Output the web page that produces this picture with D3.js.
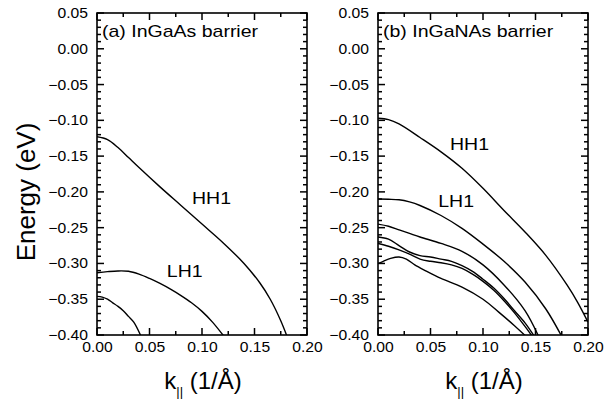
<!DOCTYPE html>
<html>
<head>
<meta charset="utf-8">
<script src="https://cdn.jsdelivr.net/npm/d3@7"></script>
<style>
  body { margin: 0; background: #fff; }
  svg text { font-family: Arial, "Liberation Sans", sans-serif; fill: #000; }
</style>
</head>
<body>
<svg id="chart" width="614" height="401"></svg>
<script>
// tick values
const xTicks = [0, 0.05, 0.10, 0.15, 0.20]
const yTicks = [0.05, 0, -0.05, -0.10, -0.15, -0.20, -0.25, -0.30, -0.35, -0.40]
const xMinorTicks = [0.025, 0.075, 0.125, 0.175]
const yMinorTicks = d3.range(-39, 5).filter(i => i % 5 !== 0).map(i => i / 100)

// panel (a) InGaAs barrier: [k, E]
const aHH1 = [[0,-0.123],[0.01,-0.127],[0.02,-0.138],[0.03,-0.152],[0.04,-0.166],[0.06,-0.193],[0.08,-0.219],[0.10,-0.245],[0.12,-0.271],[0.14,-0.300],[0.155,-0.327],[0.165,-0.350],[0.175,-0.380],[0.181,-0.402]]
const aLH1 = [[0,-0.313],[0.01,-0.3115],[0.02,-0.3105],[0.03,-0.311],[0.04,-0.315],[0.05,-0.321],[0.06,-0.328],[0.07,-0.336],[0.08,-0.345],[0.09,-0.355],[0.10,-0.367],[0.11,-0.382],[0.121,-0.402]]
const aHH2 = [[0,-0.346],[0.005,-0.347],[0.01,-0.350],[0.015,-0.355],[0.02,-0.360],[0.025,-0.366],[0.03,-0.374],[0.035,-0.382],[0.042,-0.402]]

// panel (b) InGaNAs barrier
const bHH1 = [[0,-0.097],[0.01,-0.099],[0.02,-0.105],[0.04,-0.124],[0.06,-0.144],[0.08,-0.167],[0.10,-0.195],[0.12,-0.226],[0.14,-0.256],[0.16,-0.289],[0.18,-0.330],[0.19,-0.354],[0.20,-0.382]]
const bLH1 = [[0,-0.210],[0.01,-0.2103],[0.02,-0.211],[0.03,-0.214],[0.04,-0.219],[0.06,-0.233],[0.08,-0.251],[0.10,-0.273],[0.12,-0.297],[0.14,-0.326],[0.16,-0.364],[0.175,-0.402]]
const b3 = [[0,-0.245],[0.01,-0.248],[0.02,-0.253],[0.03,-0.258],[0.04,-0.263],[0.06,-0.272],[0.08,-0.283],[0.10,-0.302],[0.12,-0.330],[0.14,-0.366],[0.153,-0.402]]
const b4 = [[0,-0.263],[0.01,-0.266],[0.02,-0.275],[0.03,-0.284],[0.04,-0.289],[0.05,-0.291],[0.06,-0.294],[0.07,-0.297],[0.08,-0.303],[0.09,-0.311],[0.10,-0.322],[0.11,-0.334],[0.12,-0.349],[0.13,-0.366],[0.14,-0.383],[0.149,-0.402]]
const b5 = [[0,-0.272],[0.01,-0.276],[0.02,-0.281],[0.03,-0.287],[0.04,-0.294],[0.05,-0.297],[0.06,-0.299],[0.07,-0.302],[0.08,-0.307],[0.09,-0.315],[0.10,-0.325],[0.11,-0.337],[0.12,-0.352],[0.13,-0.369],[0.14,-0.388],[0.147,-0.402]]
const b6 = [[0,-0.300],[0.005,-0.297],[0.012,-0.293],[0.02,-0.291],[0.027,-0.294],[0.035,-0.302],[0.045,-0.310],[0.06,-0.321],[0.08,-0.333],[0.10,-0.350],[0.115,-0.368],[0.13,-0.387],[0.141,-0.402]]

const panels = [
    { id: "a", left: 97, title: "(a) InGaAs barrier", curves: [aHH1, aLH1, aHH2],
      labels: [{ text: "HH1", k: 0.0905, e: -0.2175 }, { text: "LH1", k: 0.0665, e: -0.319 }] },
    { id: "b", left: 378, title: "(b) InGaNAs barrier", curves: [bHH1, bLH1, b3, b4, b5, b6],
      labels: [{ text: "HH1", k: 0.0686, e: -0.1415 }, { text: "LH1", k: 0.0574, e: -0.2205 }] }
]

const plotTop = 13, plotBottom = 335, pw = 210
const tickSx = 1.12, textSx = 1.22

const svg = d3.select("#chart")
let tickLayer = []

panels.forEach(p => {
    let x = d3.scaleLinear().domain([0, 0.2]).range([p.left, p.left + pw])
    let y = d3.scaleLinear().domain([-0.40, 0.05]).range([plotBottom, plotTop])
    let right = p.left + pw

    let g = svg.append("g")

    g.append("clipPath").attr("id", "clip" + p.id)
        .append("rect").attr("x", p.left).attr("y", plotTop).attr("width", pw).attr("height", plotBottom - plotTop)

    let line = d3.line().x(d => x(d[0])).y(d => y(d[1])).curve(d3.curveCatmullRom.alpha(0.5))

    g.append("g").attr("clip-path", "url(#clip" + p.id + ")")
        .selectAll("path")
        .data(p.curves).enter()
        .append("path")
        .attr("d", line)
        .attr("fill", "none")
        .attr("stroke", "#000")
        .attr("stroke-width", 1.4)

    // inward ticks on all four sides, collected and drawn last
    xTicks.map(v => [v, 7]).concat(xMinorTicks.map(v => [v, 4])).forEach(d => {
        tickLayer.push([x(d[0]), plotBottom, x(d[0]), plotBottom - d[1]])
        tickLayer.push([x(d[0]), plotTop, x(d[0]), plotTop + d[1]])
    })
    yTicks.map(v => [v, 7]).concat(yMinorTicks.map(v => [v, 4])).forEach(d => {
        tickLayer.push([p.left, y(d[0]), p.left + d[1], y(d[0])])
        tickLayer.push([right, y(d[0]), right - d[1], y(d[0])])
    })

    // tick labels
    const fmt = d3.format(".2f")
    let xa = g.append("g").attr("transform", `translate(0,${plotBottom})`)
        .call(d3.axisBottom(x).tickValues(xTicks).tickSize(0).tickPadding(7).tickFormat(fmt))
    let ya = g.append("g").attr("transform", `translate(${p.left},0)`)
        .call(d3.axisLeft(y).tickValues(yTicks).tickSize(0).tickPadding(9).tickFormat(fmt))
    ;[xa, ya].forEach(a => {
        a.select(".domain").remove()
        a.attr("font-family", null).attr("font-size", null)
        a.selectAll("text").style("font-size", "14px").attr("transform", `scale(${tickSx},1)`)
    })
    ya.selectAll("text").attr("x", -9 / tickSx)

    g.append("rect")
        .attr("x", p.left).attr("y", plotTop).attr("width", pw).attr("height", plotBottom - plotTop)
        .attr("fill", "none").attr("stroke", "#000").attr("stroke-width", 1.6)

    g.append("text")
        .attr("transform", `translate(${p.left + 5},37) scale(${textSx},1)`)
        .attr("font-size", 16)
        .text(p.title)

    g.selectAll(".lbl")
        .data(p.labels).enter()
        .append("text")
        .attr("class", "lbl")
        .attr("transform", d => `translate(${x(d.k)},${y(d.e)}) scale(${textSx},1)`)
        .attr("font-size", 16)
        .text(d => d.text)

    // x axis title with subscript
    let xtl = g.append("text")
        .attr("x", p.left + pw / 2 + 1).attr("y", 389)
        .attr("text-anchor", "middle")
        .attr("font-size", 24)
    xtl.append("tspan").text("k")
    xtl.append("tspan").attr("font-size", 13).attr("dy", 7).text("||")
    xtl.append("tspan").attr("dy", -7).text(" (1/Å)")
})

svg.append("text")
    .attr("transform", "translate(35,192) rotate(-90)")
    .attr("text-anchor", "middle")
    .attr("font-size", 26)
    .text("Energy (eV)")

svg.append("g")
    .selectAll("line")
    .data(tickLayer).enter()
    .append("line")
    .attr("x1", d => d[0]).attr("y1", d => d[1])
    .attr("x2", d => d[2]).attr("y2", d => d[3])
    .attr("stroke", "#000")
    .attr("stroke-width", 1.5)
</script>
</body>
</html>
